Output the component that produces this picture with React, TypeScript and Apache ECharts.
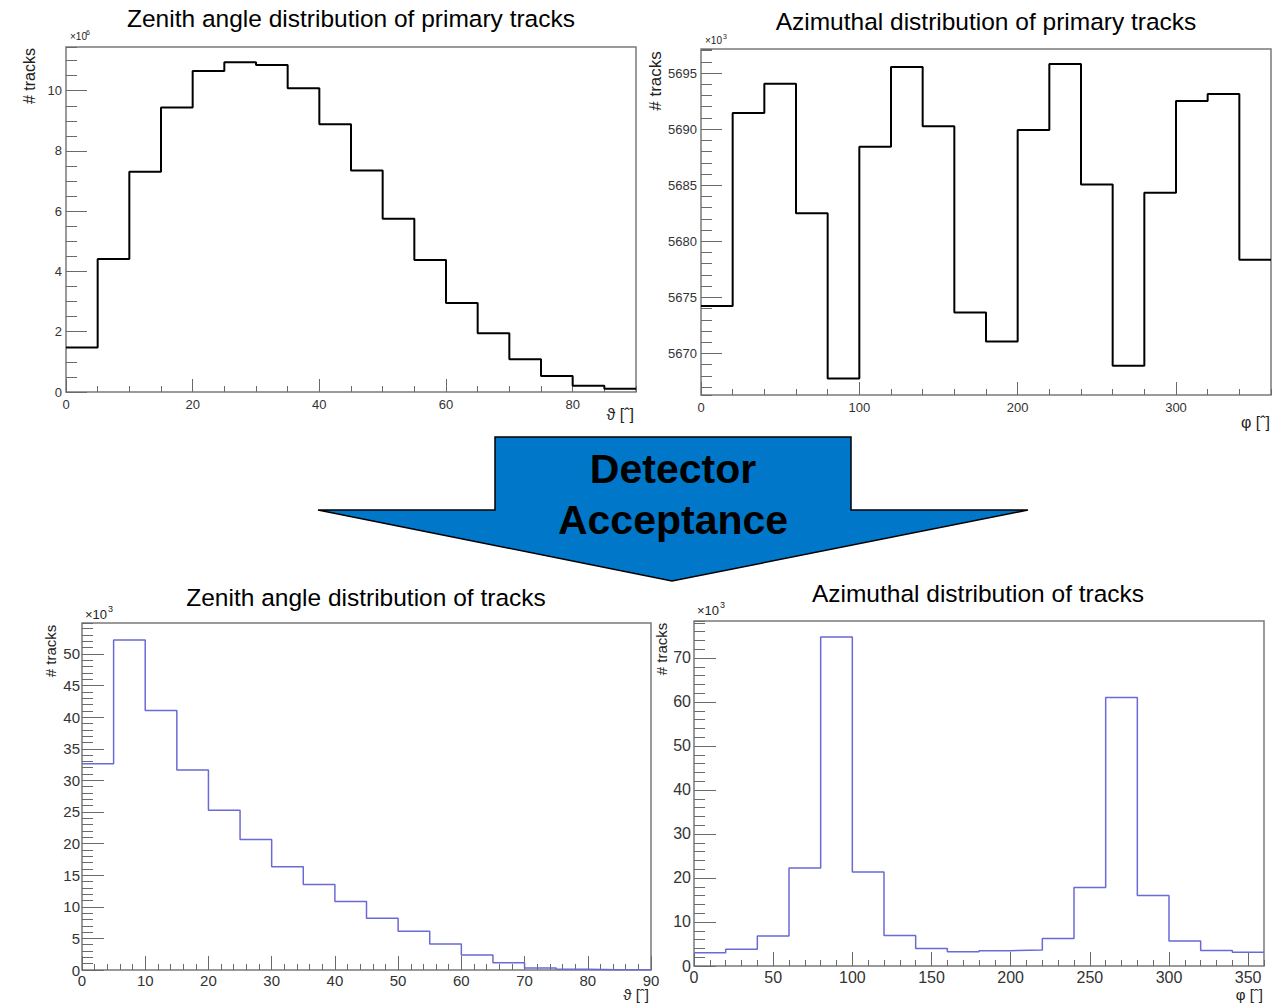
import React, { useEffect, useRef } from "react";
import * as echarts from "echarts";

// ---------- data ----------
const zenithEdges = [0, 5, 10, 15, 20, 25, 30, 35, 40, 45, 50, 55, 60, 65, 70, 75, 80, 85, 90];
const azimuthEdges = [0, 20, 40, 60, 80, 100, 120, 140, 160, 180, 200, 220, 240, 260, 280, 300, 320, 340, 360];

// primary tracks, zenith (×10^6)
const primaryZenith = [1.48, 4.41, 7.31, 9.44, 10.65, 10.94, 10.85, 10.08, 8.89, 7.35, 5.75, 4.38, 2.95, 1.95, 1.09, 0.53, 0.21, 0.11];
// primary tracks, azimuth (×10^3)
const primaryAzimuth = [5674.24, 5691.44, 5694.05, 5682.51, 5667.78, 5688.42, 5695.53, 5690.25, 5673.65, 5671.07, 5689.93, 5695.8, 5685.07, 5668.9, 5684.32, 5692.51, 5693.13, 5678.35];
// accepted tracks, zenith (×10^3)
const acceptedZenith = [32.65, 52.2, 41.06, 31.64, 25.29, 20.63, 16.35, 13.54, 10.85, 8.2, 6.14, 4.13, 2.38, 1.16, 0.32, 0.1, 0.05, 0.02];
// accepted tracks, azimuth (×10^3)
const acceptedAzimuth = [3.02, 3.78, 6.8, 22.28, 74.77, 21.37, 6.95, 4.0, 3.25, 3.47, 3.63, 6.27, 17.82, 61.03, 16.01, 5.66, 3.55, 3.1];

const titles = [
  "Zenith angle distribution of primary tracks",
  "Azimuthal distribution of primary tracks",
  "Zenith angle distribution of tracks",
  "Azimuthal distribution of tracks",
];
const yTitle = "# tracks";
const xTitles = ["ϑ [ˆ]", "φ [ˆ]", "ϑ [ˆ]", "φ [ˆ]"];
const exponents = ["6", "3", "3", "3"];
const arrowLines = ["Detector", "Acceptance"];

// ---------- layout / style ----------
const FONT = '"Liberation Sans", Arial, Helvetica, sans-serif';
const FRAME = "#7a7a7a";
const TICK = "#6a6a6a";
const LABEL = "#333";
const BLUE = "#6a6ad6";

type Panel = {
  grid: { left: number; top: number; width: number; height: number };
  edges: number[];
  values: number[];
  xMax: number;
  xMajor: number;
  xMinor: number;
  yMin: number;
  yMax: number;
  yMajor: number;
  yMinor: number;
  color: string;
  lw: number;
  labelSize: number;
  xMargin: number;
  yMargin: number;
  yTick: [number, number];
  xTick: [number, number];
  showLastX: boolean;
  title: { x: number; y: number; size: number };
  ytitle: { x: number; y: number; size: number };
  xtitle: { x: number; y: number; size: number };
  mult: { x: number; y: number; size: number; ex: number; ey: number; esize: number };
};

const panels: Panel[] = [
  {
    grid: { left: 66, top: 47, width: 570, height: 345 },
    edges: zenithEdges, values: primaryZenith,
    xMax: 90, xMajor: 20, xMinor: 5,
    yMin: 0, yMax: 11.45, yMajor: 2, yMinor: 0.5,
    color: "#000", lw: 2, labelSize: 13, xMargin: 6, yMargin: 4,
    yTick: [21, 11], xTick: [13, 6], showLastX: false,
    title: { x: 351, y: 18, size: 24.5 },
    ytitle: { x: 29, y: 76, size: 16 },
    xtitle: { x: 634, y: 414, size: 16 },
    mult: { x: 70, y: 36, size: 10, ex: 86, ey: 32, esize: 7 },
  },
  {
    grid: { left: 701, top: 49, width: 570, height: 346 },
    edges: azimuthEdges, values: primaryAzimuth,
    xMax: 360, xMajor: 100, xMinor: 20,
    yMin: 5666.3, yMax: 5697.14, yMajor: 5, yMinor: 1,
    color: "#000", lw: 2, labelSize: 13, xMargin: 6, yMargin: 4,
    yTick: [21, 11], xTick: [13, 6], showLastX: false,
    title: { x: 986, y: 21, size: 24.5 },
    ytitle: { x: 655, y: 81, size: 17 },
    xtitle: { x: 1270, y: 422, size: 16 },
    mult: { x: 705, y: 40, size: 10, ex: 723, ey: 36, esize: 7 },
  },
  {
    grid: { left: 82, top: 623, width: 569, height: 347 },
    edges: zenithEdges, values: acceptedZenith,
    xMax: 90, xMajor: 10, xMinor: 2,
    yMin: 0, yMax: 54.9, yMajor: 5, yMinor: 1,
    color: BLUE, lw: 1.5, labelSize: 15, xMargin: 3, yMargin: 2,
    yTick: [22, 11], xTick: [14, 6], showLastX: true,
    title: { x: 366, y: 597, size: 24.5 },
    ytitle: { x: 50, y: 651, size: 15 },
    xtitle: { x: 649, y: 994, size: 15 },
    mult: { x: 85, y: 614, size: 13, ex: 108, ey: 609, esize: 9 },
  },
  {
    grid: { left: 694, top: 621, width: 570, height: 345 },
    edges: azimuthEdges, values: acceptedAzimuth,
    xMax: 360, xMajor: 50, xMinor: 10,
    yMin: 0, yMax: 78.4, yMajor: 10, yMinor: 2,
    color: BLUE, lw: 1.5, labelSize: 16, xMargin: 3, yMargin: 3,
    yTick: [22, 11], xTick: [14, 6], showLastX: false,
    title: { x: 978, y: 593, size: 24.5 },
    ytitle: { x: 661, y: 649, size: 15 },
    xtitle: { x: 1263, y: 994, size: 15 },
    mult: { x: 697, y: 610, size: 13, ex: 720, ey: 605, esize: 9 },
  },
];

function stepData(edges: number[], values: number[]) {
  const pts = values.map((v, i) => [edges[i], v]);
  pts.push([edges[edges.length - 1], values[values.length - 1]]);
  return pts;
}

function tickSpacing(min: number, max: number, step: number) {
  // use interval when min is a multiple of it, otherwise let ECharts find the same nice step
  if (Math.abs(min / step - Math.round(min / step)) < 1e-9) return { interval: step };
  return { splitNumber: Math.round((max - min) / step) };
}

function buildOption() {
  const grids: any[] = [];
  const xAxes: any[] = [];
  const yAxes: any[] = [];
  const series: any[] = [];
  const graphics: any[] = [];

  panels.forEach((p, i) => {
    grids.push({ ...p.grid, show: true, borderColor: FRAME, borderWidth: 1.5, backgroundColor: "transparent", containLabel: false });
    const labelBase = { fontSize: p.labelSize, color: LABEL, fontFamily: FONT };
    xAxes.push({
      type: "value", gridIndex: i, position: "bottom", min: 0, max: p.xMax, interval: p.xMajor,
      axisLine: { show: false }, splitLine: { show: false },
      axisTick: { show: true, inside: true, length: p.xTick[0], lineStyle: { color: TICK, width: 1 } },
      axisLabel: { ...labelBase, margin: p.xMargin, showMinLabel: true, showMaxLabel: p.showLastX, formatter: (v: number) => String(v) },
    });
    xAxes.push({
      type: "value", gridIndex: i, position: "bottom", min: 0, max: p.xMax, interval: p.xMinor,
      axisLine: { show: false }, splitLine: { show: false }, axisLabel: { show: false },
      axisTick: { show: true, inside: true, length: p.xTick[1], lineStyle: { color: TICK, width: 1 } },
    });
    const minIsTick = Math.abs(p.yMin / p.yMajor - Math.round(p.yMin / p.yMajor)) < 1e-9;
    yAxes.push({
      type: "value", gridIndex: i, position: "left", min: p.yMin, max: p.yMax, ...tickSpacing(p.yMin, p.yMax, p.yMajor),
      axisLine: { show: false }, splitLine: { show: false },
      axisTick: { show: true, inside: true, length: p.yTick[0], lineStyle: { color: TICK, width: 1 } },
      axisLabel: { ...labelBase, margin: p.yMargin, showMinLabel: minIsTick, showMaxLabel: false, formatter: (v: number) => String(v) },
    });
    yAxes.push({
      type: "value", gridIndex: i, position: "left", min: p.yMin, max: p.yMax, ...tickSpacing(p.yMin, p.yMax, p.yMinor),
      axisLine: { show: false }, splitLine: { show: false }, axisLabel: { show: false },
      axisTick: { show: true, inside: true, length: p.yTick[1], lineStyle: { color: TICK, width: 1 } },
    });
    series.push({
      type: "line", xAxisIndex: 2 * i, yAxisIndex: 2 * i, step: "end",
      data: stepData(p.edges, p.values), showSymbol: false, symbol: "none",
      lineStyle: { color: p.color, width: p.lw }, silent: true, z: 5,
    });

    graphics.push({
      type: "text", x: p.title.x, y: p.title.y,
      style: { text: titles[i], fontSize: p.title.size, fontFamily: FONT, fill: "#000", align: "center", verticalAlign: "middle" },
    });
    graphics.push({
      type: "text", x: p.ytitle.x, y: p.ytitle.y, rotation: Math.PI / 2,
      style: { text: yTitle, fontSize: p.ytitle.size, fontFamily: FONT, fill: "#222", align: "center", verticalAlign: "middle" },
    });
    graphics.push({
      type: "text", x: p.xtitle.x, y: p.xtitle.y,
      style: { text: xTitles[i], fontSize: p.xtitle.size, fontFamily: FONT, fill: "#222", align: "right", verticalAlign: "middle" },
    });
    graphics.push({
      type: "text", x: p.mult.x, y: p.mult.y,
      style: { text: "×10", fontSize: p.mult.size, fontFamily: FONT, fill: "#222", align: "left", verticalAlign: "middle" },
    });
    graphics.push({
      type: "text", x: p.mult.ex, y: p.mult.ey,
      style: { text: exponents[i], fontSize: p.mult.esize, fontFamily: FONT, fill: "#222", align: "left", verticalAlign: "middle" },
    });
  });

  graphics.push({
    type: "polygon",
    shape: { points: [[495, 437], [851, 437], [851, 510], [1028, 510], [672, 581], [318, 510], [495, 510]] },
    style: { fill: "#0077c8", stroke: "#000", lineWidth: 1.5 },
    z: 10,
  });
  graphics.push({
    type: "text", x: 673, y: 469, z: 11,
    style: { text: arrowLines[0], fontSize: 41, fontWeight: "bold", fontFamily: FONT, fill: "#000", align: "center", verticalAlign: "middle" },
  });
  graphics.push({
    type: "text", x: 673, y: 520, z: 11,
    style: { text: arrowLines[1], fontSize: 41, fontWeight: "bold", fontFamily: FONT, fill: "#000", align: "center", verticalAlign: "middle" },
  });

  return {
    animation: false,
    backgroundColor: "#fff",
    grid: grids,
    xAxis: xAxes,
    yAxis: yAxes,
    series,
    graphic: graphics,
  };
}

export default function App() {
  const ref = useRef<HTMLDivElement>(null);
  useEffect(() => {
    if (!ref.current) return;
    const chart = echarts.init(ref.current, undefined, { renderer: "svg" });
    chart.setOption(buildOption() as any);
    return () => chart.dispose();
  }, []);
  return (
    <div
      ref={ref}
      style={{ position: "fixed", left: 0, top: 0, width: 1276, height: 1003, background: "#fff" }}
    />
  );
}
